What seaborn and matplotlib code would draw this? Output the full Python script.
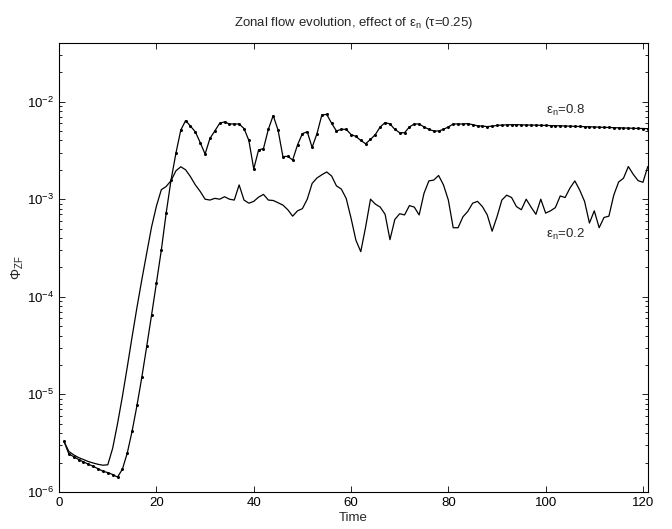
import numpy as np
import pandas as pd
import matplotlib
matplotlib.use('Agg')
import matplotlib.pyplot as plt
import seaborn as sns
from matplotlib.ticker import LogLocator, NullFormatter

# time steps
time = list(range(1, 122))

# epsilon_n = 0.8 (with dots)
phi_08 = [
    3.3e-6, 2.45e-6, 2.3e-6, 2.15e-6, 2.03e-6, 1.93e-6, 1.83e-6, 1.73e-6, 1.63e-6, 1.58e-6,
    1.51e-6, 1.42e-6, 1.71e-6, 2.5e-6, 4.2e-6, 7.7e-6, 1.5e-5, 3.1e-5, 6.5e-5, 1.39e-4,
    3.0e-4, 7.2e-4, 1.57e-3, 2.95e-3, 5.1e-3, 6.4e-3, 5.6e-3, 4.9e-3, 3.8e-3, 2.9e-3,
    4.2e-3, 5.0e-3, 6.0e-3, 6.2e-3, 5.9e-3, 5.9e-3, 5.9e-3, 5.3e-3, 4.0e-3, 2.04e-3,
    3.2e-3, 3.3e-3, 5.2e-3, 7.2e-3, 5.1e-3, 2.73e-3, 2.75e-3, 2.52e-3, 3.6e-3, 4.7e-3,
    4.9e-3, 3.4e-3, 4.7e-3, 7.3e-3, 7.4e-3, 6.0e-3, 5.0e-3, 5.2e-3, 5.2e-3, 4.6e-3,
    4.4e-3, 4.0e-3, 3.7e-3, 4.1e-3, 4.6e-3, 5.5e-3, 6.1e-3, 5.9e-3, 5.2e-3, 4.8e-3,
    4.8e-3, 5.5e-3, 5.9e-3, 5.9e-3, 5.5e-3, 5.2e-3, 5.0e-3, 5.0e-3, 5.2e-3, 5.5e-3,
    5.9e-3, 5.9e-3, 5.9e-3, 5.95e-3, 5.8e-3, 5.65e-3, 5.6e-3, 5.55e-3, 5.6e-3, 5.7e-3,
    5.75e-3, 5.78e-3, 5.8e-3, 5.8e-3, 5.78e-3, 5.76e-3, 5.75e-3, 5.74e-3, 5.72e-3, 5.7e-3,
    5.68e-3, 5.66e-3, 5.65e-3, 5.63e-3, 5.6e-3, 5.58e-3, 5.56e-3, 5.54e-3, 5.52e-3, 5.5e-3,
    5.47e-3, 5.45e-3, 5.43e-3, 5.41e-3, 5.39e-3, 5.37e-3, 5.35e-3, 5.33e-3, 5.31e-3, 5.3e-3,
    5.28e-3,
]

# epsilon_n = 0.2 (plain line)
phi_02 = [
    3.3e-6, 2.6e-6, 2.4e-6, 2.25e-6, 2.15e-6, 2.05e-6, 1.98e-6, 1.92e-6, 1.88e-6, 1.9e-6,
    2.8e-6, 5.0e-6, 9.5e-6, 1.9e-5, 3.9e-5, 7.8e-5, 1.5e-4, 2.8e-4, 5.2e-4, 8.5e-4,
    1.25e-3, 1.35e-3, 1.55e-3, 1.95e-3, 2.15e-3, 2.0e-3, 1.7e-3, 1.4e-3, 1.2e-3, 1.0e-3,
    9.8e-4, 1.02e-3, 1.0e-3, 1.06e-3, 1.0e-3, 9.8e-4, 1.4e-3, 9.8e-4, 9.1e-4, 9.5e-4,
    1.05e-3, 1.12e-3, 9.8e-4, 9.7e-4, 9.2e-4, 8.7e-4, 7.8e-4, 6.7e-4, 7.6e-4, 8.0e-4,
    1.0e-3, 1.45e-3, 1.65e-3, 1.78e-3, 1.9e-3, 1.73e-3, 1.37e-3, 1.27e-3, 1.02e-3, 6.4e-4,
    3.8e-4, 2.9e-4, 5.2e-4, 1.0e-3, 8.9e-4, 8.3e-4, 7.0e-4, 3.85e-4, 6.2e-4, 7.1e-4,
    6.9e-4, 8.6e-4, 8.3e-4, 6.9e-4, 1.15e-3, 1.54e-3, 1.57e-3, 1.75e-3, 1.4e-3, 9.8e-4,
    5.1e-4, 5.1e-4, 6.6e-4, 7.5e-4, 9.1e-4, 9.5e-4, 8.4e-4, 6.9e-4, 4.7e-4, 6.6e-4,
    9.8e-4, 1.1e-3, 1.04e-3, 8.4e-4, 7.8e-4, 1.0e-3, 8.3e-4, 7.0e-4, 1.0e-3, 7.2e-4,
    7.6e-4, 8.2e-4, 1.08e-3, 1.04e-3, 1.3e-3, 1.54e-3, 1.24e-3, 9.5e-4, 5.7e-4, 7.6e-4,
    5.1e-4, 6.5e-4, 6.7e-4, 1.1e-3, 1.5e-3, 1.64e-3, 2.16e-3, 1.8e-3, 1.55e-3, 1.49e-3,
    2.16e-3,
]

x_ticks = [0, 20, 40, 60, 80, 100, 120]

sns.set_style('ticks')
plt.rcParams['font.family'] = ['Liberation Sans', 'DejaVu Sans']
plt.rcParams['mathtext.fontset'] = 'custom'
plt.rcParams['mathtext.rm'] = 'Liberation Sans'
plt.rcParams['mathtext.it'] = 'Liberation Sans:italic'
plt.rcParams['mathtext.sf'] = 'Liberation Sans'

df = pd.DataFrame({
    'Time': time * 2,
    'phi': phi_08 + phi_02,
    'eps': ['0.8'] * len(time) + ['0.2'] * len(time),
})

fig = plt.figure(figsize=(6.72, 5.29), dpi=100)
ax = fig.add_axes([0.088, 0.070, 0.876, 0.849])

sns.lineplot(data=df[df['eps'] == '0.8'], x='Time', y='phi', color='black',
             linewidth=0.9, marker='o', markersize=2.2, markeredgewidth=0,
             ax=ax)
sns.lineplot(data=df[df['eps'] == '0.2'], x='Time', y='phi', color='black',
             linewidth=0.9, ax=ax)

ax.set_yscale('log')
ax.set_xlim(0, 121)
ax.set_ylim(1e-6, 0.04)
ax.set_xticks(x_ticks)
ax.yaxis.set_major_locator(LogLocator(base=10, numticks=10))
ax.yaxis.set_minor_locator(LogLocator(base=10, subs=np.arange(2, 10), numticks=20))
ax.yaxis.set_minor_formatter(NullFormatter())

ax.tick_params(which='both', direction='in', top=True, right=True,
               labelsize=9.5, width=0.6, colors='black')
ax.tick_params(which='major', length=4)
ax.tick_params(which='minor', length=2.5)
for s in ax.spines.values():
    s.set_linewidth(0.8)
    s.set_color('black')

ax.set_xlabel('Time', fontsize=9.5, labelpad=2)
ax.set_ylabel(r'$\Phi_{\mathrm{ZF}}$', fontsize=10, labelpad=1)
ax.set_title(r'Zonal flow evolution, effect of ε$_{\mathrm{n}}$ (τ=0.25)',
             fontsize=9.5, pad=12)

ax.text(100, 8.2e-3, r'ε$_{\mathrm{n}}$=0.8', fontsize=9.5, ha='left', va='center')
ax.text(100, 4.4e-4, r'ε$_{\mathrm{n}}$=0.2', fontsize=9.5, ha='left', va='center')

fig.savefig('out.png', dpi=100)
